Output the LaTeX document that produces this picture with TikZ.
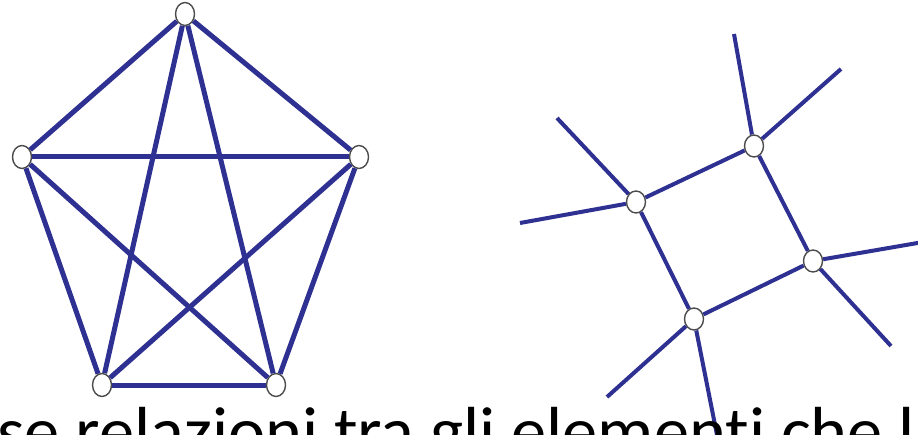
\documentclass[tikz,border=0pt]{standalone}
\usepackage{fontspec}
\setmainfont[Ligatures=NoCommon]{Carlito}
\usetikzlibrary{shapes.geometric}

\definecolor{graph blue}{RGB}{46,49,146}
\tikzstyle{edge}=[graph blue, line width=5pt]
\tikzstyle{lattice edge}=[graph blue, line width=4pt]
\tikzstyle{vertex}=[ellipse, fill=white, draw=black!70, line width=1.4pt, minimum width=19pt, minimum height=23pt, inner sep=0pt]

\begin{document}
\begin{tikzpicture}[x=1pt, y=-1pt]
	\useasboundingbox (0,0) rectangle (918,435);
	\clip (0,0) rectangle (918,435);

	% Complete graph on five vertices
	\node[vertex] (top)   at (185, 14) {};
	\node[vertex] (left)  at ( 22,157) {};
	\node[vertex] (right) at (359,157) {};
	\node[vertex] (botl)  at (102,385) {};
	\node[vertex] (botr)  at (276,385) {};

	\foreach \a/\b in {top/left, top/right, top/botl, top/botr, left/right,
		left/botl, left/botr, right/botl, right/botr, botl/botr}{
		\draw[edge] (\a) -- (\b);
	}

	% Square with open ends
	\node[vertex, minimum height=22pt] (sqa) at (636,202) {};
	\node[vertex, minimum height=22pt] (sqb) at (754,146) {};
	\node[vertex, minimum height=22pt] (sqc) at (813,261) {};
	\node[vertex, minimum height=22pt] (sqd) at (694,319) {};

	\coordinate (a1) at (557,118);
	\coordinate (a2) at (520,223);
	\coordinate (b1) at (734, 34);
	\coordinate (b2) at (841, 69);
	\coordinate (c1) at (935,240);
	\coordinate (c2) at (891,346);
	\coordinate (d1) at (607,397);
	\coordinate (d2) at (719,445);

	\foreach \a/\b in {sqa/sqb, sqb/sqc, sqc/sqd, sqd/sqa, sqa/a1, sqa/a2,
		sqb/b1, sqb/b2, sqc/c1, sqc/c2, sqd/d1, sqd/d2}{
		\draw[lattice edge] (\a) -- (\b);
	}

	\node[anchor=base west, inner sep=0pt, xscale=1.035, font=\fontsize{68}{80}\selectfont] (caption) at (-3,454)
		{se relazioni tra gli elementi che l};
\end{tikzpicture}
\end{document}
